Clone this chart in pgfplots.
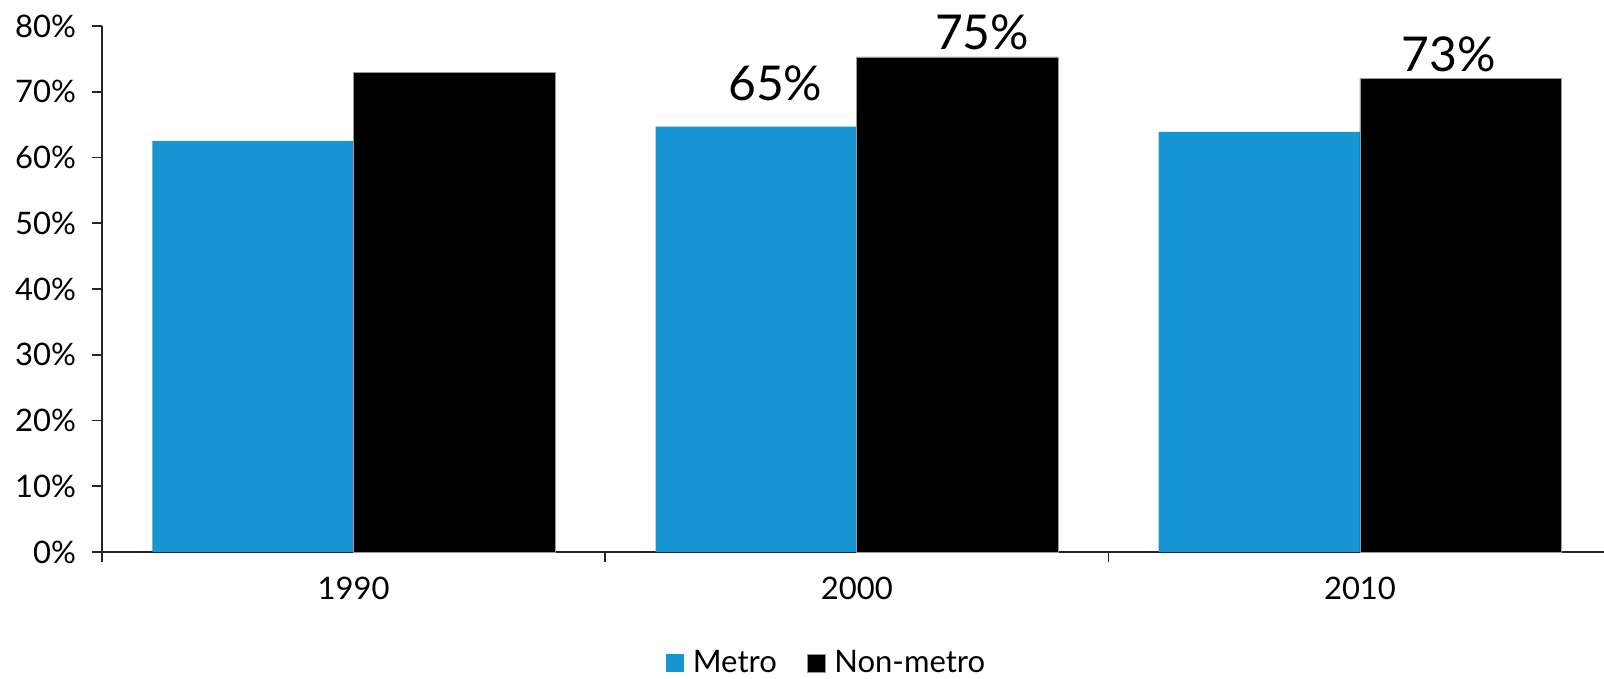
\documentclass[border=0pt]{standalone}
\usepackage{fontspec}
\setmainfont{Lato}
\usepackage{pgfplots}
\pgfplotsset{compat=1.18}
\definecolor{metro}{RGB}{24,150,211}
\begin{document}
\begin{tikzpicture}[x=1pt,y=1pt]
\begin{axis}[
  at={(51pt,63.5pt)}, anchor=south west,
  scale only axis, width=751pt, height=263pt,
  xmin=-0.5, xmax=2.485, ymin=0, ymax=80,
  axis x line=bottom, axis y line=left,
  axis line style={black!85, line width=0.8pt, -},
  xtick={0,1,2}, xticklabels={1990,2000,2010},
  minor xtick={-0.5,0.5,1.5},
  major x tick style={draw=none},
  minor x tick style={black!85, line width=0.8pt},
  minor tick length=5pt,
  ytick={0,10,...,80},
  yticklabels={0\%,10\%,20\%,30\%,40\%,50\%,60\%,70\%,80\%},
  y tick style={black!85, line width=0.8pt},
  major tick length=5pt,
  tick align=outside,
  tick label style={font=\fontsize{15.5}{18}\selectfont, text=black},
  xticklabel style={yshift=-4pt},
  yticklabel style={xshift=-4.5pt},
  clip=false,
  legend columns=2,
  legend style={at={(0.4830,-0.211)}, anchor=center, draw=none,
    font=\fontsize{15.5}{18}\selectfont, text=black,
    /tikz/every odd column/.append style={column sep=2.5pt},
    /tikz/every even column/.append style={column sep=13pt}},
  legend image code/.code={\fill[#1] (0pt,-4.5pt) rectangle (9pt,4.5pt);},
]
\addplot[ybar, bar width=0.4, bar shift=-0.2, fill=metro, draw=none]
  coordinates {(0,62.5) (1,64.7) (2,63.9)};
\addlegendentry{Metro}
\addplot[ybar, bar width=0.4, bar shift=0.2, fill=black, draw=black!40, line width=0.3pt]
  coordinates {(0,73.0) (1,75.3) (2,72.0)};
\addlegendentry{Non-metro}
\node[font=\fontsize{24}{28}\selectfont, inner sep=0pt] at (axis cs:0.838,71.3) {65\%};
\node[font=\fontsize{24}{28}\selectfont, inner sep=0pt] at (axis cs:1.249,79.1) {75\%};
\node[font=\fontsize{24}{28}\selectfont, inner sep=0pt] at (axis cs:2.176,75.7) {73\%};
\end{axis}
\pgfresetboundingbox
\path[use as bounding box] (0,0) rectangle (802pt,339.5pt);
\end{tikzpicture}
\end{document}
